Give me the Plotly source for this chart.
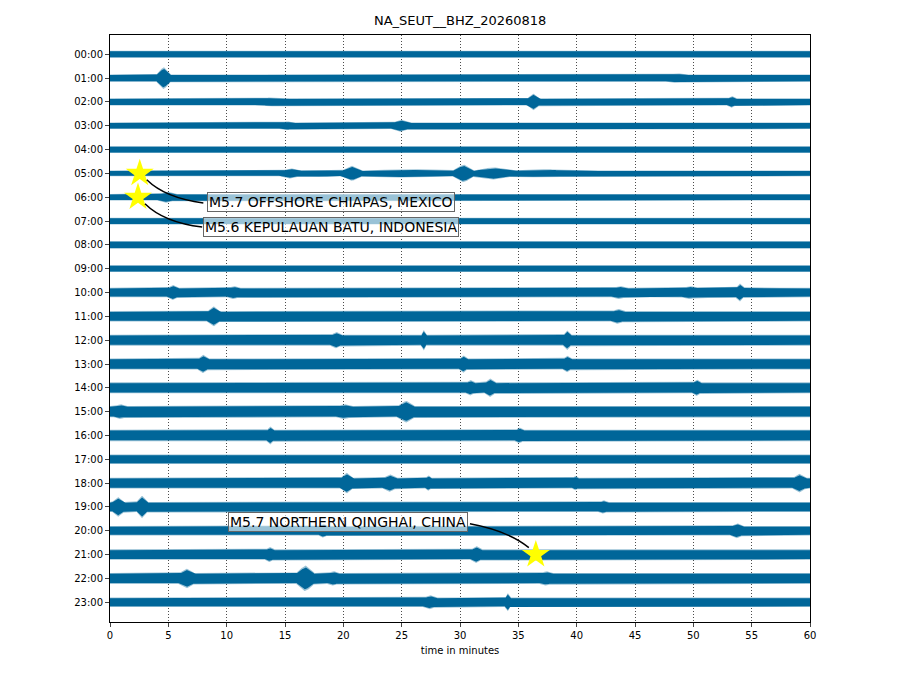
import numpy as np
import plotly.graph_objects as go

# ---------------- data ----------------
hour_labels = ["%02d:00" % h for h in range(24)]
rows = list(range(24))

# visible half-width of each hourly trace (in row-spacing units)
base_halfwidth = [0.15, 0.15, 0.15, 0.14, 0.14, 0.12, 0.14, 0.14, 0.16, 0.14,
                  0.20, 0.22, 0.23, 0.23, 0.23, 0.24, 0.24, 0.20, 0.23, 0.21,
                  0.20, 0.22, 0.23, 0.20]

# bursts of larger amplitude: row, start minute, end minute, extra half-width
burst_row   = [1, 1, 2, 2, 2, 3, 3, 5, 5, 5, 5, 5, 5, 5, 6,
               10, 10, 10, 10, 10, 10, 11, 11, 12, 12, 12, 13, 13, 13,
               14, 14, 14, 15, 15, 15, 16, 16, 18, 18, 18, 18, 18,
               19, 19, 19, 20, 20, 21, 21, 22, 22, 22, 22, 23, 23]
burst_start = [4.0, 48.0, 35.8, 13.0, 53.0, 24.3, 14.8, 14.8, 16.2, 19.9, 21.6, 29.4, 31.2, 34.5, 4.3,
               5.0, 10.2, 43.2, 48.0, 49.2, 53.7, 8.4, 43.1, 19.0, 26.7, 38.9, 7.6, 30.0, 38.9,
               30.6, 32.2, 50.0, 24.7, 19.6, 0.5, 13.5, 34.8, 19.8, 23.5, 27.1, 39.7, 58.6,
               0.2, 2.3, 42.0, 18.0, 53.3, 13.4, 31.0, 6.0, 16.0, 18.8, 37.0, 27.0, 33.9]
burst_end   = [5.2, 49.2, 36.8, 14.5, 53.6, 25.6, 15.6, 16.2, 19.8, 21.6, 29.5, 31.2, 34.5, 40.0, 5.5,
               5.8, 11.0, 44.2, 56.0, 50.2, 54.3, 9.4, 44.0, 19.8, 27.1, 39.5, 8.4, 30.6, 39.5,
               31.2, 33.0, 50.6, 26.1, 20.6, 1.3, 14.0, 35.4, 20.8, 24.5, 27.5, 40.1, 59.6,
               1.2, 3.2, 42.6, 18.6, 54.2, 14.0, 31.8, 7.2, 17.5, 19.5, 37.8, 27.9, 34.3]
burst_amp   = [0.32, 0.06, 0.20, 0.04, 0.10, 0.12, 0.05, 0.10, 0.04, 0.20, 0.06, 0.26, 0.14, 0.06, 0.10,
               0.12, 0.08, 0.08, 0.04, 0.08, 0.18, 0.20, 0.10, 0.12, 0.20, 0.18, 0.16, 0.14, 0.12,
               0.10, 0.16, 0.12, 0.22, 0.08, 0.08, 0.14, 0.10, 0.20, 0.14, 0.10, 0.08, 0.16,
               0.20, 0.26, 0.08, 0.10, 0.12, 0.10, 0.14, 0.18, 0.32, 0.08, 0.08, 0.10, 0.18]

# events
event_labels = ["M5.7 OFFSHORE CHIAPAS, MEXICO", "M5.6 KEPULAUAN BATU, INDONESIA",
                "M5.7 NORTHERN QINGHAI, CHINA"]
event_row    = [5.0, 6.0, 21.0]
event_minute = [2.55, 2.4, 36.5]
label_minute = [18.9, 18.9, 20.4]
label_row    = [6.22, 7.23, 19.65]
label_halfwidth = [10.9, 11.0, 10.45]

title = "NA_SEUT__BHZ_20260818"
x_ticks = list(range(0, 61, 5))

# ---------------- figure ----------------
color = "#006699"
t = np.linspace(0, 60, 2401)

fig = go.Figure()
for r in rows:
    env = np.full_like(t, base_halfwidth[r])
    for br, s, e, a in zip(burst_row, burst_start, burst_end, burst_amp):
        if br != r:
            continue
        half = (e - s) / 2
        w = np.clip(np.minimum(t - s, e - t) / half, 0, 1) ** 0.8
        env = np.maximum(env, base_halfwidth[r] + a * w)
    for scale, col in ((1.0, "rgba(0,102,153,0.40)"), (0.85, color)):
        xs = np.concatenate([t, t[::-1]])
        ys = np.concatenate([r - env * scale, (r + env * scale)[::-1]])
        fig.add_trace(go.Scatter(x=xs, y=ys, mode="lines", fill="toself",
                                 fillcolor=col, line=dict(width=0),
                                 hoverinfo="skip", showlegend=False))

fig.add_trace(go.Scatter(x=event_minute, y=event_row, mode="markers",
                         marker=dict(symbol="star", size=21, color="yellow",
                                     line=dict(width=0)),
                         showlegend=False, hoverinfo="skip"))

shapes = []
annotations = []
for i, lab in enumerate(event_labels):
    if label_minute[i] > event_minute[i]:
        # star -> left edge of label box
        x0, y0 = event_minute[i] + 0.6, event_row[i] + 0.27
        x1, y1 = label_minute[i] - label_halfwidth[i], label_row[i] + 0.02
        cx, cy = x0 + 1.6, y1 - 0.2
    else:
        # right edge of label box -> star
        x0, y0 = label_minute[i] + label_halfwidth[i], label_row[i] + 0.06
        x1, y1 = event_minute[i] - 0.6, event_row[i] - 0.29
        cx, cy = x0 + 3.3, y0 + 0.3
    shapes.append(dict(type="path", xref="x", yref="y",
                       path="M %f,%f Q %f,%f %f,%f" % (x0, y0, cx, cy, x1, y1),
                       line=dict(color="black", width=1.5)))
    annotations.append(dict(x=label_minute[i], y=label_row[i], xref="x", yref="y",
                            text=lab, showarrow=False,
                            font=dict(family="DejaVu Sans", size=14, color="black"),
                            bgcolor="rgba(255,255,255,0.6)", bordercolor="#666666",
                            borderwidth=1, borderpad=1))

annotations.append(dict(x=0.5, y=1.0, xref="paper", yref="paper", yshift=24,
                        text=title, showarrow=False,
                        font=dict(family="DejaVu Sans", size=13, color="black")))

fig.update_layout(
    width=912, height=682,
    margin=dict(l=102, r=110, t=27, b=68),
    plot_bgcolor="white", paper_bgcolor="white",
    shapes=shapes, annotations=annotations,
    font=dict(family="DejaVu Sans", size=10, color="black"),
    xaxis=dict(range=[0, 60], tickvals=x_ticks, ticktext=[str(v) for v in x_ticks],
               ticks="outside", ticklen=4, showline=True, linecolor="black",
               mirror=True, showgrid=True, gridcolor="rgba(0,0,0,0.7)",
               griddash="1px,2px", gridwidth=0.7, zeroline=False, automargin=False,
               title=dict(text="time in minutes", font=dict(size=10), standoff=6)),
    yaxis=dict(range=[23.83, -0.81], tickvals=rows, ticktext=hour_labels,
               ticks="outside", ticklen=4, showline=True, linecolor="black",
               mirror=True, showgrid=False, zeroline=False, automargin=False),
)

fig.write_html("out.html")
